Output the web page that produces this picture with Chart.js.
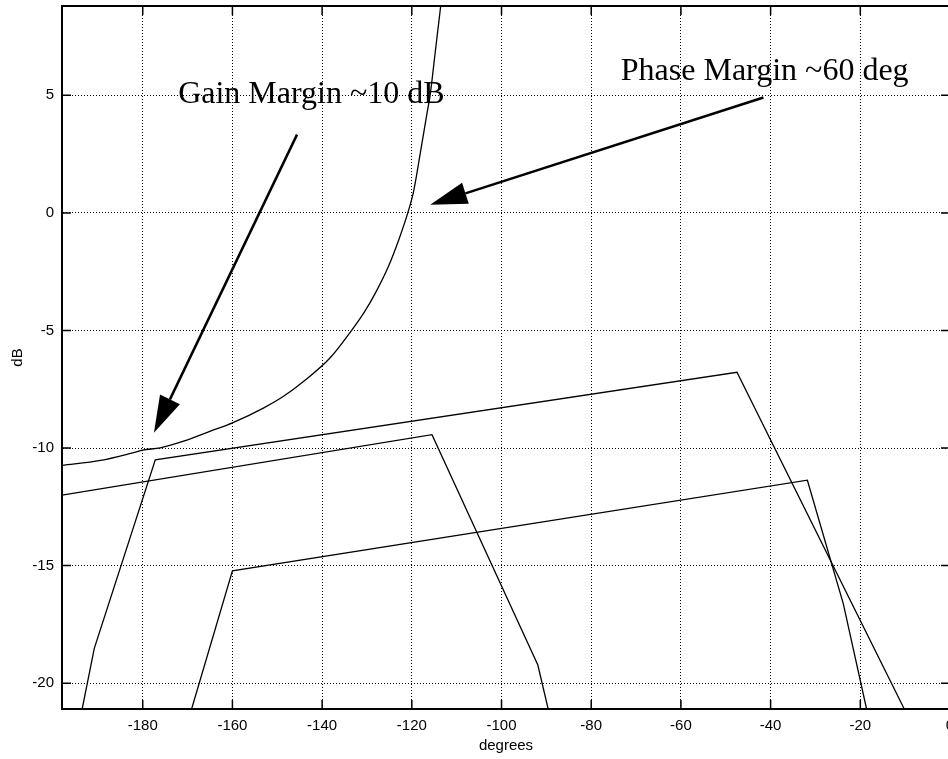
<!DOCTYPE html>
<html>
<head>
<meta charset="utf-8">
<script src="https://cdn.jsdelivr.net/npm/chart.js@4.4.1/dist/chart.umd.min.js"></script>
<style>
  html, body { margin: 0; padding: 0; overflow: hidden; background: #fff; }
  #wrap { width: 960px; height: 759px; }
</style>
</head>
<body>
<div id="wrap"><canvas id="nichols" width="960" height="759"></canvas></div>
<script>
// Tick labels
const xTicks = [-180, -160, -140, -120, -100, -80, -60, -40, -20, 0];
const yTicks = [5, 0, -5, -10, -15, -20];

// Open-loop curve (phase in degrees, gain in dB)
const curveDeg = [-198, -189.4, -182.7, -180, -176.1, -170.9, -164.9, -160, -153, -148.6, -144.1, -138.2,
                  -133.3, -130.7, -128.1, -125.2, -122.9, -120.9, -119.6, -118.1, -116.6, -115.9, -114.8, -113.5];
const curveDb = [-10.74, -10.53, -10.23, -10.09, -9.99, -9.71, -9.28, -8.93, -8.29, -7.80, -7.16, -6.16,
                 -4.96, -4.25, -3.40, -2.27, -1.14, 0, 0.92, 2.55, 4.25, 5.03, 6.80, 8.9];

// Straight-line boundaries
const lowLeftDeg = [-198, -115.5, -91.9, -89.6];
const lowLeftDb = [-12.0, -9.43, -19.23, -21.1];

const upperDeg = [-193.5, -190.8, -177.2, -47.5, -10.2];
const upperDb = [-21.1, -18.52, -10.50, -6.78, -21.1];

const lowerDeg = [-169.1, -160, -31.8, -23.8, -18.6];
const lowerDb = [-21.1, -15.22, -11.37, -16.62, -21.1];

// Annotations, in data units
const noteTexts = ['Gain Margin ~10 dB', 'Phase Margin ~60 deg'];
const noteDeg = [-172.1, -73.4];
const noteDb = [4.69, 5.67];
const arrowFromDeg = [-145.6, -41.6];
const arrowFromDb = [3.33, 4.91];
const arrowToDeg = [-177.5, -115.9];
const arrowToDb = [-9.35, 0.35];

const toPoints = (xs, ys) => xs.map((x, i) => ({ x: x, y: ys[i] }));

const lineStyle = {
    showLine: true,
    borderColor: '#000',
    borderWidth: 1.3,
    pointRadius: 0,
    tension: 0,
    fill: false
};

const sansFont = '"Liberation Sans", Arial, Helvetica, sans-serif';

const framePlugin = {
    id: 'frame',
    afterDraw(chart) {
        const { ctx, chartArea: a, scales: { x, y } } = chart;
        ctx.save();
        ctx.strokeStyle = '#000';
        ctx.fillStyle = '#000';

        // top and right edge of the box
        ctx.lineWidth = 2;
        ctx.beginPath();
        ctx.moveTo(a.left, a.top);
        ctx.lineTo(a.right, a.top);
        ctx.lineTo(a.right, a.bottom);
        ctx.stroke();

        // inward tick marks on all four sides
        ctx.lineWidth = 1.5;
        ctx.beginPath();
        x.ticks.forEach(t => {
            const px = x.getPixelForValue(t.value);
            ctx.moveTo(px, a.bottom); ctx.lineTo(px, a.bottom - 9);
            ctx.moveTo(px, a.top); ctx.lineTo(px, a.top + 9);
        });
        y.ticks.forEach(t => {
            const py = y.getPixelForValue(t.value);
            ctx.moveTo(a.left, py); ctx.lineTo(a.left + 9, py);
            ctx.moveTo(a.right, py); ctx.lineTo(a.right - 9, py);
        });
        ctx.stroke();

        // labels
        ctx.font = '32px "Liberation Serif", "Times New Roman", serif';
        ctx.textAlign = 'left';
        ctx.textBaseline = 'alphabetic';
        noteTexts.forEach((txt, i) => {
            ctx.fillText(txt, x.getPixelForValue(noteDeg[i]), y.getPixelForValue(noteDb[i]));
        });

        // arrows
        arrowFromDeg.forEach((_, i) => {
            const x0 = x.getPixelForValue(arrowFromDeg[i]);
            const y0 = y.getPixelForValue(arrowFromDb[i]);
            const x1 = x.getPixelForValue(arrowToDeg[i]);
            const y1 = y.getPixelForValue(arrowToDb[i]);
            const ang = Math.atan2(y1 - y0, x1 - x0);
            const headLen = 37, headHalf = 11;
            const bx = x1 - headLen * Math.cos(ang);
            const by = y1 - headLen * Math.sin(ang);
            ctx.lineWidth = 2.5;
            ctx.beginPath();
            ctx.moveTo(x0, y0);
            ctx.lineTo(bx, by);
            ctx.stroke();
            ctx.beginPath();
            ctx.moveTo(x1, y1);
            ctx.lineTo(bx + headHalf * Math.sin(ang), by - headHalf * Math.cos(ang));
            ctx.lineTo(bx - headHalf * Math.sin(ang), by + headHalf * Math.cos(ang));
            ctx.closePath();
            ctx.fill();
        });
        ctx.restore();
    }
};

const noPadding = s => {
    s.paddingLeft = 0; s.paddingRight = 0; s.paddingTop = 0; s.paddingBottom = 0;
};

new Chart(document.getElementById('nichols').getContext('2d'), {
    type: 'scatter',
    data: {
        datasets: [
            { ...lineStyle, cubicInterpolationMode: 'monotone', data: toPoints(curveDeg, curveDb) },
            { ...lineStyle, data: toPoints(lowLeftDeg, lowLeftDb) },
            { ...lineStyle, data: toPoints(upperDeg, upperDb) },
            { ...lineStyle, data: toPoints(lowerDeg, lowerDb) }
        ]
    },
    options: {
        responsive: false,
        devicePixelRatio: 1,
        animation: false,
        layout: { padding: { top: 6, right: 10, left: 0, bottom: 0 } },
        plugins: { legend: { display: false }, tooltip: { enabled: false } },
        scales: {
            x: {
                type: 'linear',
                min: -198,
                max: 0,
                afterBuildTicks: s => { s.ticks = xTicks.map(v => ({ value: v })); },
                afterFit: s => { s.height = 50; noPadding(s); },
                grid: { color: '#000', lineWidth: 1, drawTicks: false },
                border: { display: true, color: '#000', width: 2, dash: [1, 2] },
                ticks: {
                    color: '#000', padding: 8, maxRotation: 0, autoSkip: false,
                    font: { family: sansFont, size: 15 },
                    callback: v => String(v)
                },
                title: {
                    display: true, text: 'degrees', color: '#000',
                    font: { family: sansFont, size: 15 },
                    padding: { top: 0, bottom: 4 }
                }
            },
            y: {
                type: 'linear',
                min: -21.1,
                max: 8.8,
                afterBuildTicks: s => { s.ticks = yTicks.map(v => ({ value: v })); },
                afterFit: s => { s.width = 62; noPadding(s); },
                grid: { color: '#000', lineWidth: 1, drawTicks: false },
                border: { display: true, color: '#000', width: 2, dash: [1, 2] },
                ticks: {
                    color: '#000', padding: 8, autoSkip: false,
                    font: { family: sansFont, size: 15 },
                    callback: v => String(v)
                },
                title: {
                    display: true, text: 'dB', color: '#000',
                    font: { family: sansFont, size: 15 },
                    padding: { top: 9, bottom: 0 }
                }
            }
        }
    },
    plugins: [framePlugin]
});
</script>
</body>
</html>
